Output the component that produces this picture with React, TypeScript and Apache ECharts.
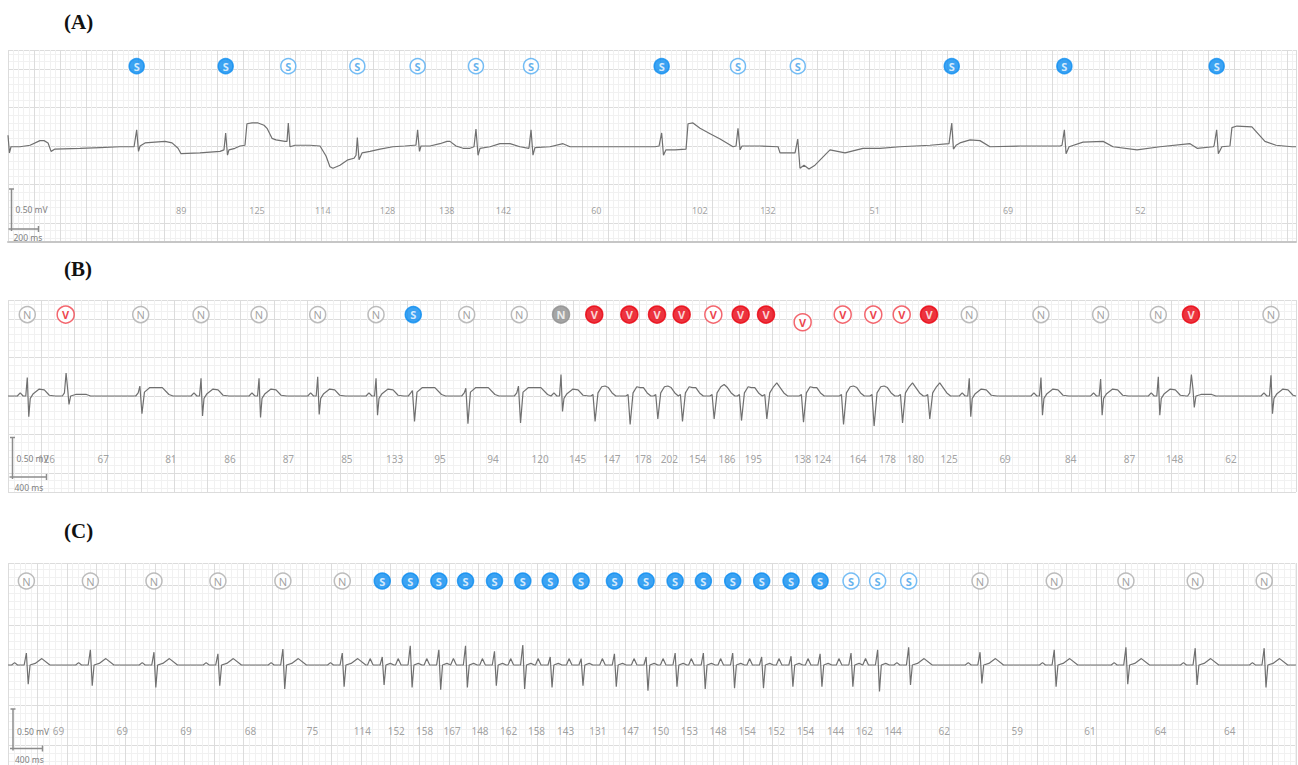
import { useEffect, useRef } from 'react';
import * as echarts from 'echarts';

// ---------------- Panel A (200 ms per major division) ----------------
const spanA = 9870;
const beatTimesA = [986, 1668, 2148, 2677, 3139, 3586, 4008, 5009, 5594, 6052, 7232, 8095, 9262];
const beatClassA = ['S', 'S', 's', 's', 's', 's', 's', 'S', 's', 's', 'S', 'S', 'S'];
const heartRateA = [89, 125, 114, 128, 138, 142, 60, 102, 132, 51, 69, 52];
// ECG samples [ms, mV]
const ecgA = [
  [0, 0.14], [11, -0.09], [23, -0.01], [92, -0.01], [169, 0.01], [245, 0.07], [276, 0.07], [307, 0.04], [330, -0.07], [360, -0.04],
  [552, -0.03], [705, -0.02], [858, -0.01], [966, -0.01], [986, 0.21], [1000, -0.07], [1012, 0], [1050, 0.04], [1126, 0.05], [1203, 0.06],
  [1257, 0.04], [1303, -0.03], [1326, -0.1], [1471, -0.09], [1625, -0.07], [1655, -0.05], [1668, 0.17], [1682, -0.12], [1693, -0.05], [1739, -0.03],
  [1778, 0], [1816, 0.01], [1831, 0.29], [1870, 0.3], [1916, 0.3], [1962, 0.27], [1985, 0.23], [2023, 0.1], [2054, 0.08], [2122, 0.06],
  [2138, 0.06], [2148, 0.3], [2161, -0.01], [2199, 0.01], [2314, 0.01], [2391, 0], [2437, -0.13], [2467, -0.27], [2490, -0.29], [2544, -0.25],
  [2605, -0.18], [2651, -0.16], [2667, -0.12], [2677, 0.11], [2690, -0.18], [2713, -0.09], [2774, -0.07], [2851, -0.04], [2950, -0.01], [3042, 0],
  [3111, 0.01], [3126, 0.01], [3139, 0.21], [3153, -0.07], [3165, 0], [3234, 0], [3310, 0.03], [3364, 0.06], [3387, 0.06], [3433, 0],
  [3487, -0.03], [3540, -0.03], [3571, -0.01], [3586, 0.22], [3602, -0.12], [3617, -0.03], [3694, -0.01], [3770, 0.03], [3847, 0.03], [3923, -0.01],
  [3992, -0.03], [4008, 0.21], [4023, -0.12], [4038, -0.02], [4153, -0.01], [4253, 0.03], [4307, -0.01], [4537, -0.01], [4766, -0.01], [4958, -0.01],
  [4989, 0], [5009, 0.17], [5023, -0.12], [5042, -0.05], [5111, -0.05], [5196, -0.04], [5211, 0.29], [5249, 0.3], [5303, 0.23], [5380, 0.16],
  [5457, 0.09], [5556, -0.01], [5579, 0], [5594, 0.23], [5610, -0.05], [5625, 0], [5763, 0], [5901, -0.01], [5916, -0.09], [6031, -0.09],
  [6052, 0.09], [6069, -0.29], [6100, -0.25], [6138, -0.3], [6184, -0.25], [6299, -0.05], [6414, -0.09], [6552, -0.03], [6682, -0.03], [6835, -0.01],
  [7065, 0.01], [7211, 0.03], [7232, 0.3], [7245, -0.04], [7265, 0.01], [7295, 0.04], [7372, 0.08], [7448, 0.07], [7525, -0.01], [7755, 0],
  [8062, 0], [8077, 0.01], [8095, 0.21], [8108, -0.1], [8131, -0.01], [8238, 0.05], [8392, 0.06], [8468, -0.01], [8652, -0.05], [8828, -0.01],
  [9058, 0.03], [9112, -0.03], [9235, -0.01], [9242, 0], [9262, 0.21], [9275, -0.1], [9302, -0.01], [9364, 0], [9379, 0.24], [9417, 0.26],
  [9532, 0.25], [9632, 0.06], [9717, 0.01], [9839, -0.01], [9870, -0.01],
];

// ---------------- Panel B (400 ms per major division) ----------------
const spanB = 15500;
const beatTimesB = [232, 694, 1597, 2323, 3021, 3727, 4429, 4877, 5520, 6153, 6655, 7055, 7477, 7810, 8107, 8488, 8817, 9122, 9563, 10045, 10413, 10755, 11083, 11568, 12431, 13149, 13843, 14236, 15199];
const beatClassB = ['N', 'v', 'N', 'N', 'N', 'N', 'N', 'S', 'N', 'N', 'G', 'V', 'V', 'V', 'V', 'v', 'V', 'V', 'v', 'v', 'v', 'v', 'V', 'N', 'N', 'N', 'N', 'V', 'N'];
const heartRateB = [126, 67, 81, 86, 87, 85, 133, 95, 94, 120, 145, 147, 178, 202, 154, 186, 195, 138, 124, 164, 178, 180, 125, 69, 84, 87, 148, 62];
const shapeB = ['n', 'p', 'q', 'n', 'n', 'n', 'n', 'q', 'q', 'q', 'n', 'v', 'v', 'v', 'v', 'v', 'v', 'v', 'v', 'v', 'v', 'v', 'v', 'n', 'n', 'n', 'n', 'p', 'n'];
const upB = [0.24, 0.3, 0.13, 0.23, 0.23, 0.25, 0.23, 0.07, 0.1, 0.13, 0.28, 0.13, 0.11, 0.13, 0.11, 0.15, 0.11, 0.17, 0.11, 0.13, 0.13, 0.17, 0.17, 0.23, 0.24, 0.22, 0.25, 0.28, 0.27];
const downB = [-0.27, -0.11, -0.23, -0.26, -0.28, -0.24, -0.25, -0.33, -0.36, -0.35, -0.2, -0.33, -0.37, -0.3, -0.33, -0.3, -0.32, -0.3, -0.34, -0.37, -0.39, -0.35, -0.3, -0.27, -0.25, -0.25, -0.25, -0.15, -0.23];
// beat morphologies read from the strip: [ms from beat, mV] ('R' / 'S' = beat's own up / down value)
const morphB: Record<string, (number | string)[][]> = {
  n: [[-120, 0], [-85, 0.04], [-50, 0], [-18, 0], [0, 'R'], [18, 'S'], [36, -0.03], [72, 0.03], [144, 0.09], [205, 0.08], [265, 0.01], [337, 0]],
  q: [[-60, 0], [-30, 0.04], [-10, 'R'], [15, 'S'], [45, 0.05], [110, 0.11], [260, 0.11], [340, 0.02], [390, 0]],
  v: [[-40, 0], [-15, 0.02], [10, 'S'], [45, 0.04], [90, 0.12], [130, 'R'], [170, 0.11], [215, 0.04], [260, 0]],
  p: [[-40, 0], [-15, 0.04], [5, 'R'], [25, 0.08], [40, 'S'], [60, 0], [120, 0.02], [250, 0.02], [300, 0]],
};

// ---------------- Panel C (400 ms per major division) ----------------
const spanC = 17524;
const beatTimesC = [250, 1121, 1986, 2856, 3740, 4548, 5092, 5473, 5862, 6225, 6619, 7004, 7377, 7798, 8251, 8682, 9077, 9461, 9860, 10254, 10654, 11049, 11470, 11832, 12254, 13225, 14235, 15210, 16153, 17091];
const beatClassC = ['N', 'N', 'N', 'N', 'N', 'N', 'S', 'S', 'S', 'S', 'S', 'S', 'S', 'S', 'S', 'S', 'S', 'S', 'S', 'S', 'S', 'S', 's', 's', 's', 'N', 'N', 'N', 'N', 'N'];
const heartRateC = [69, 69, 69, 68, 75, 114, 152, 158, 167, 148, 162, 158, 143, 131, 147, 150, 153, 148, 154, 152, 154, 144, 162, 144, 62, 59, 61, 64, 64];
const shapeC = ['n', 'n', 'n', 'n', 'n', 'n', 's', 's', 's', 's', 's', 's', 's', 's', 's', 's', 's', 's', 's', 's', 's', 's', 's', 's', 'n', 'n', 'n', 'n', 'n', 'n'];
const upC = [0.15, 0.19, 0.16, 0.14, 0.2, 0.15, 0.1, 0.24, 0.19, 0.24, 0.17, 0.25, 0.1, 0.08, 0.14, 0.1, 0.15, 0.15, 0.15, 0.1, 0.11, 0.14, 0.15, 0.19, 0.22, 0.16, 0.19, 0.22, 0.21, 0.21];
const downC = [-0.24, -0.26, -0.28, -0.26, -0.3, -0.27, -0.25, -0.28, -0.31, -0.28, -0.26, -0.3, -0.28, -0.26, -0.27, -0.32, -0.27, -0.3, -0.29, -0.29, -0.27, -0.27, -0.27, -0.33, -0.25, -0.23, -0.27, -0.24, -0.25, -0.28];
const morphC: Record<string, (number | string)[][]> = {
  n: [[-200, 0], [-160, 0.03], [-120, 0], [-30, 0], [0, 'R'], [25, 'S'], [50, 0], [120, 0.02], [210, 0.08], [320, 0], [400, 0]],
  s: [[-200, 0], [-165, 0.08], [-125, 0], [-30, 0], [0, 'R'], [25, 'S'], [50, 0], [110, 0.02], [160, 0]],
};

const titles = ['(A)', '(B)', '(C)'];

type Pt = [number, number];

function buildTrace(times: number[], shapes: string[], ups: number[], downs: number[], lib: Record<string, (number | string)[][]>, span: number): Pt[] {
  const pts: Pt[] = [[0, 0]];
  times.forEach((t, i) => {
    const tpl = lib[shapes[i]];
    const limit = i + 1 < times.length ? times[i + 1] + (lib[shapes[i + 1]][0][0] as number) : span;
    for (const [dt, v] of tpl) {
      const x = t + (dt as number);
      if (x <= pts[pts.length - 1][0]) continue;
      if (x >= limit) break;
      pts.push([x, v === 'R' ? ups[i] : v === 'S' ? downs[i] : (v as number)]);
    }
  });
  pts.push([span, 0]);
  return pts;
}

const classStyle: Record<string, { fill: string; border: string; text: string; letter: string; weight: string }> = {
  S: { fill: '#0b8cf0', border: '#0b8cf0', text: '#ffffff', letter: 'S', weight: 'bold' },
  s: { fill: '#ffffff', border: '#52acf2', text: '#3b9ee8', letter: 'S', weight: 'bold' },
  N: { fill: '#ffffff', border: '#ababab', text: '#8a8a8a', letter: 'N', weight: 'normal' },
  G: { fill: '#8e8e8e', border: '#8e8e8e', text: '#ffffff', letter: 'N', weight: 'bold' },
  V: { fill: '#e8000e', border: '#e8000e', text: '#ffffff', letter: 'V', weight: 'bold' },
  v: { fill: '#ffffff', border: '#f0404a', text: '#e8101c', letter: 'V', weight: 'bold' },
};

export default function App() {
  const ref = useRef<HTMLDivElement>(null);
  useEffect(() => {
    if (!ref.current) return;
    const chart = echarts.init(ref.current, undefined, { renderer: 'svg' });

    const panels = [
      { times: beatTimesA, cls: beatClassA, hr: heartRateA, trace: ecgA as Pt[], span: spanA, major: 200, yMin: -1.25, yMax: 1.25, grid: { left: 8, top: 50, width: 1288, height: 192 }, labelY: 1.04, hrY: -0.84, sym: 15, hrFont: 9, bottomLine: true },
      { times: beatTimesB, cls: beatClassB, hr: heartRateB, trace: buildTrace(beatTimesB, shapeB, upB, downB, morphB, spanB), span: spanB, major: 400, yMin: -1.25, yMax: 1.25, grid: { left: 8, top: 300, width: 1288, height: 192 }, labelY: 1.06, hrY: -0.82, sym: 16, hrFont: 10, bottomLine: false },
      { times: beatTimesC, cls: beatClassC, hr: heartRateC, trace: buildTrace(beatTimesC, shapeC, upC, downC, morphC, spanC), span: spanC, major: 400, yMin: -1.25, yMax: 1.275, grid: { left: 8, top: 563, width: 1288, height: 202 }, labelY: 1.05, hrY: -0.83, sym: 16, hrFont: 10, bottomLine: false },
    ];

    const grids: any[] = [];
    const xAxes: any[] = [];
    const yAxes: any[] = [];
    const series: any[] = [];

    panels.forEach((p, i) => {
      grids.push({ ...p.grid, containLabel: false });
      xAxes.push({
        gridIndex: i, type: 'value', min: 0, max: p.span, interval: p.major,
        axisLine: { show: p.bottomLine, onZero: false, lineStyle: { color: '#c6c6c6', width: 2 } },
        axisTick: { show: false }, axisLabel: { show: false },
        splitLine: { show: true, lineStyle: { color: '#dcdcdc', width: 1 } },
        minorTick: { show: false, splitNumber: 5 },
        minorSplitLine: { show: true, lineStyle: { color: '#f1f1f1', width: 1 } },
      });
      yAxes.push({
        gridIndex: i, type: 'value', min: p.yMin, max: p.yMax, splitNumber: 5,
        axisLine: { show: false }, axisTick: { show: false }, axisLabel: { show: false },
        splitLine: { show: true, lineStyle: { color: '#dcdcdc', width: 1 } },
        minorTick: { show: false, splitNumber: 5 },
        minorSplitLine: { show: true, lineStyle: { color: '#f1f1f1', width: 1 } },
      });
      series.push({
        type: 'line', xAxisIndex: i, yAxisIndex: i, data: p.trace, symbol: 'none', showSymbol: false,
        lineStyle: { color: '#707070', width: 1.2 }, silent: true, z: 3,
      });
      series.push({
        type: 'scatter', xAxisIndex: i, yAxisIndex: i, symbol: 'circle', silent: true, z: 4,
        data: p.times.map((t, k) => {
          const st = classStyle[p.cls[k]];
          const low = i === 1 && k === 18;
          const big = p.cls[k] === 'V' || p.cls[k] === 'v' || p.cls[k] === 'G';
          return {
            value: [t, low ? p.labelY - 0.1 : p.labelY],
            symbolSize: big ? p.sym + 1 : p.sym,
            itemStyle: { color: st.fill, borderColor: st.border, borderWidth: 1.5 },
            label: {
              show: true, position: 'inside', formatter: st.letter, color: st.text,
              fontSize: 11, fontWeight: st.weight, fontFamily: 'Noto Sans',
            },
          };
        }),
      });
      series.push({
        type: 'scatter', xAxisIndex: i, yAxisIndex: i, symbol: 'circle', symbolSize: 1, silent: true, z: 4,
        itemStyle: { color: 'rgba(0,0,0,0)' },
        data: p.hr.map((h, k) => {
          // the reference puts the rate of the lowered beat label under that beat
          const x = i === 1 && k === 17 ? p.times[k + 1] : (p.times[k] + p.times[k + 1]) / 2;
          return {
            value: [x, p.hrY],
            label: { show: true, position: 'inside', formatter: String(h), color: '#8a8a8a', fontSize: p.hrFont, fontFamily: 'Noto Sans' },
          };
        }),
      });
    });

    const gray = '#8c8c8c';
    const ln = (x1: number, y1: number, x2: number, y2: number) => ({
      type: 'line', shape: { x1, y1, x2, y2 }, style: { stroke: gray, lineWidth: 1.5 }, silent: true, z: 10,
    });
    const tx = (text: string, x: number, y: number) => ({
      type: 'text', x, y, silent: true, z: 10,
      style: { text, fill: '#808080', fontSize: 8.5, fontFamily: 'Noto Sans', verticalAlign: 'middle' },
    });
    const scaleBar = (x: number, yTop: number, yBot: number, xEnd: number, timeText: string, mvY: number, tY: number) => [
      ln(x, yTop, x, yBot + 2), ln(x - 2.5, yTop, x + 2.5, yTop), ln(x - 3, yBot, xEnd, yBot), ln(xEnd, yBot - 3, xEnd, yBot + 3),
      tx('0.50 mV', x + 4, mvY), tx(timeText, x + 2, tY),
    ];

    const graphic: any[] = [
      ...titles.map((t, i) => ({
        type: 'text', x: 64, y: [22, 269, 531][i], silent: true,
        style: { text: t, fill: '#111', fontSize: 21, fontWeight: 'bold', fontFamily: 'Liberation Serif', verticalAlign: 'middle' },
      })),
      ...scaleBar(11.5, 189, 229, 38.5, '200 ms', 209, 237.5),
      ...scaleBar(12.5, 437.5, 477, 46.5, '400 ms', 458, 487),
      ...scaleBar(13, 709, 748.5, 42.5, '400 ms', 731, 759.5),
    ];

    chart.setOption({
      animation: false,
      backgroundColor: '#ffffff',
      grid: grids,
      xAxis: xAxes,
      yAxis: yAxes,
      series,
      graphic,
    });
    return () => chart.dispose();
  }, []);

  return <div ref={ref} style={{ position: 'absolute', left: 0, top: 0, width: 1298, height: 765, background: '#fff' }} />;
}
